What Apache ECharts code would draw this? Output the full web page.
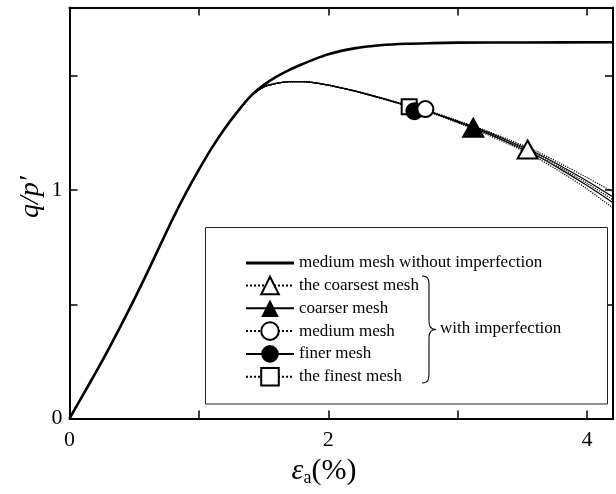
<!DOCTYPE html>
<html>
<head>
<meta charset="utf-8">
<script src="https://cdn.jsdelivr.net/npm/echarts@6/dist/echarts.min.js"></script>
<style>
  html, body { margin: 0; padding: 0; background: #fff; }
  #chart { width: 616px; height: 494px; }
</style>
</head>
<body>
<div id="chart"></div>
<script>
// ---- data ----
const mainX = [0, 0.1, 0.2, 0.3, 0.4, 0.5, 0.6, 0.7, 0.8, 0.9, 1.0, 1.1, 1.2, 1.3, 1.4, 1.5, 1.6, 1.7, 1.8, 1.9, 2.0, 2.1, 2.2, 2.3, 2.4, 2.6, 2.8, 3.0, 3.5, 4.2];
const mainY = [0, 0.099, 0.199, 0.302, 0.410, 0.522, 0.638, 0.758, 0.877, 0.988, 1.090, 1.185, 1.270, 1.345, 1.412, 1.460, 1.497, 1.527, 1.552, 1.575, 1.595, 1.610, 1.621, 1.629, 1.635, 1.641, 1.644, 1.646, 1.647, 1.648];

const impX = [1.3, 1.4, 1.5, 1.6, 1.7, 1.8, 1.9, 2.0, 2.2, 2.4, 2.6, 2.8, 3.0, 3.2, 3.4, 3.6, 3.8, 4.0, 4.2];
const coarsestY = [1.345, 1.412, 1.452, 1.468, 1.475, 1.475, 1.470, 1.460, 1.436, 1.406, 1.374, 1.343, 1.305, 1.265, 1.220, 1.173, 1.115, 1.055, 0.992];
const coarserY  = [1.345, 1.412, 1.452, 1.468, 1.475, 1.475, 1.470, 1.460, 1.435, 1.405, 1.373, 1.341, 1.302, 1.261, 1.214, 1.165, 1.105, 1.040, 0.970];
const mediumY   = [1.345, 1.412, 1.452, 1.468, 1.475, 1.475, 1.470, 1.460, 1.435, 1.405, 1.372, 1.340, 1.300, 1.258, 1.210, 1.160, 1.097, 1.030, 0.958];
const finerY    = [1.345, 1.412, 1.452, 1.468, 1.475, 1.475, 1.470, 1.460, 1.435, 1.404, 1.371, 1.339, 1.298, 1.255, 1.206, 1.154, 1.090, 1.020, 0.945];
const finestY   = [1.345, 1.412, 1.452, 1.468, 1.475, 1.475, 1.470, 1.460, 1.434, 1.403, 1.370, 1.337, 1.295, 1.250, 1.200, 1.145, 1.078, 1.005, 0.922];

// one marker per imperfection curve: coarsest, coarser, medium, finer, finest
const markerX = [3.54, 3.12, 2.75, 2.665, 2.625];
const markerY = [1.178, 1.273, 1.355, 1.346, 1.365];

const seriesNames = [
  'medium mesh without imperfection',
  'the coarsest mesh',
  'coarser mesh',
  'medium mesh',
  'finer mesh',
  'the finest mesh'
];
const groupLabel = 'with imperfection';
const xTickLabels = [0, 2, 4];
const yTickLabels = [0, 1];

// ---- chart ----
const FONT = '"Liberation Serif", "DejaVu Serif", serif';
const zip = (xs, ys) => xs.map((x, i) => [x, ys[i]]);
const impYs = [coarsestY, coarserY, mediumY, finerY, finestY];
const impStyles = [
  { type: 'dotted', width: 1.2, symbol: 'emptyTriangle', ms: 'triangle', fill: '#fff', size: [20, 18] },
  { type: 'solid',  width: 1.2, symbol: 'triangle',      ms: 'triangle', fill: '#000', size: [20, 18] },
  { type: 'dotted', width: 1.2, symbol: 'emptyCircle',   ms: 'circle',   fill: '#fff', size: [16, 16] },
  { type: 'solid',  width: 1.2, symbol: 'circle',        ms: 'circle',   fill: '#000', size: [16, 16] },
  { type: 'dotted', width: 1.2, symbol: 'emptyRect',     ms: 'rect',     fill: '#fff', size: [15, 15] }
];

const series = [{
  name: seriesNames[0],
  type: 'line',
  data: zip(mainX, mainY),
  showSymbol: false,
  symbol: 'none',
  smooth: 0.3,
  lineStyle: { color: '#000', width: 2.6 },
  itemStyle: { color: '#000' },
  z: 3
}];
impYs.forEach((ys, i) => {
  const st = impStyles[i];
  series.push({
    name: seriesNames[i + 1],
    type: 'line',
    data: zip(impX, ys),
    showSymbol: false,
    symbol: st.symbol,
    smooth: 0.3,
    lineStyle: { color: '#000', width: st.width, type: st.type },
    itemStyle: { color: '#000' },
    z: 2,
    markPoint: {
      symbol: st.ms,
      symbolSize: st.size,
      label: { show: false },
      itemStyle: { color: st.fill, borderColor: '#000', borderWidth: 2 },
      data: [{ coord: [markerX[i], markerY[i]] }],
      z: 10 - i
    }
  });
});

const isIn = (arr, v) => arr.some(t => Math.abs(t - v) < 1e-9);
const braceStyle = { fill: null, stroke: '#000', lineWidth: 1.1 };
const bz = (x1, y1, cx1, cy1, cx2, cy2, x2, y2) => ({
  type: 'bezierCurve', z: 100,
  shape: { x1, y1, cpx1: cx1, cpy1: cy1, cpx2: cx2, cpy2: cy2, x2, y2 },
  style: braceStyle
});
const ln = (x1, y1, x2, y2) => ({ type: 'line', z: 100, shape: { x1, y1, x2, y2 }, style: braceStyle });
const axisLineStyle = { onZero: false, lineStyle: { color: '#000', width: 2 } };
const tickStyle = { inside: true, length: 8, lineStyle: { color: '#000', width: 1.5 } };

const chart = echarts.init(document.getElementById('chart'), null, { renderer: 'canvas' });
chart.setOption({
  backgroundColor: '#fff',
  animation: false,
  grid: { left: 69.5, top: 7.5, width: 552, height: 411 },
  xAxis: [{
    type: 'value', min: 0, max: 4.2, interval: 1,
    axisLine: axisLineStyle, axisTick: tickStyle,
    axisLabel: {
      color: '#000', fontFamily: FONT, fontSize: 22, margin: 11,
      formatter: v => isIn(xTickLabels, v) ? String(v) : ''
    },
    splitLine: { show: false }
  }, {
    type: 'value', min: 0, max: 4.2, interval: 1, position: 'top',
    axisLine: axisLineStyle, axisTick: tickStyle,
    axisLabel: { show: false },
    splitLine: { show: false }
  }],
  yAxis: [{
    type: 'value', min: 0, max: 1.8, interval: 0.5,
    axisLine: axisLineStyle, axisTick: tickStyle,
    axisLabel: {
      color: '#000', fontFamily: FONT, fontSize: 22, margin: 7,
      formatter: v => isIn(yTickLabels, v) ? String(v) : ''
    },
    splitLine: { show: false }
  }, {
    type: 'value', min: 0, max: 1.8, interval: 0.5, position: 'right',
    axisLine: axisLineStyle, axisTick: tickStyle,
    axisLabel: { show: false },
    splitLine: { show: false }
  }],
  legend: {
    orient: 'vertical',
    left: 245, top: 254.5,
    itemWidth: 48, itemHeight: 22, itemGap: 4.2,
    padding: 0,
    textStyle: { color: '#000', fontFamily: FONT, fontSize: 17 },
    data: [
      { name: seriesNames[0], icon: 'path://M0,0 L48,0 L48,3 L0,3 Z', itemStyle: { color: '#000' } },
      seriesNames[1], seriesNames[2], seriesNames[3], seriesNames[4], seriesNames[5]
    ]
  },
  graphic: [
    { type: 'rect', shape: { x: 205.5, y: 227.5, width: 402, height: 176.5 },
      style: { fill: '#fff', stroke: '#222', lineWidth: 1 }, z: 1 },
    bz(422, 276, 428, 276, 429, 279, 429, 285),
    ln(429, 285, 429, 321.5),
    bz(429, 321.5, 429, 326.5, 431, 329.5, 436, 329.5),
    bz(436, 329.5, 431, 329.5, 429, 332.5, 429, 337.5),
    ln(429, 337.5, 429, 374),
    bz(429, 374, 429, 380, 428, 383, 422, 383),
    { type: 'text', z: 100, x: 440, y: 329,
      style: { text: groupLabel, fill: '#000', font: '17px ' + FONT, textVerticalAlign: 'middle', textAlign: 'left' } },
    { type: 'text', z: 100, x: 31, y: 197, rotation: Math.PI / 2,
      style: { text: "q/p′", fill: '#000', font: 'italic 28px ' + FONT, textAlign: 'center', textVerticalAlign: 'middle' } },
    { type: 'text', z: 100, x: 324, y: 471,
      style: {
        text: '{e|ε}{s|a}{p|(%)}',
        textAlign: 'center', textVerticalAlign: 'middle',
        rich: {
          e: { fontFamily: FONT, fontStyle: 'italic', fontSize: 30, fill: '#000', color: '#000' },
          s: { fontFamily: FONT, fontSize: 18, fill: '#000', color: '#000', padding: [15, 0, 0, 0] },
          p: { fontFamily: FONT, fontSize: 30, fill: '#000', color: '#000' }
        }
      } }
  ],
  series: series
});
</script>
</body>
</html>
